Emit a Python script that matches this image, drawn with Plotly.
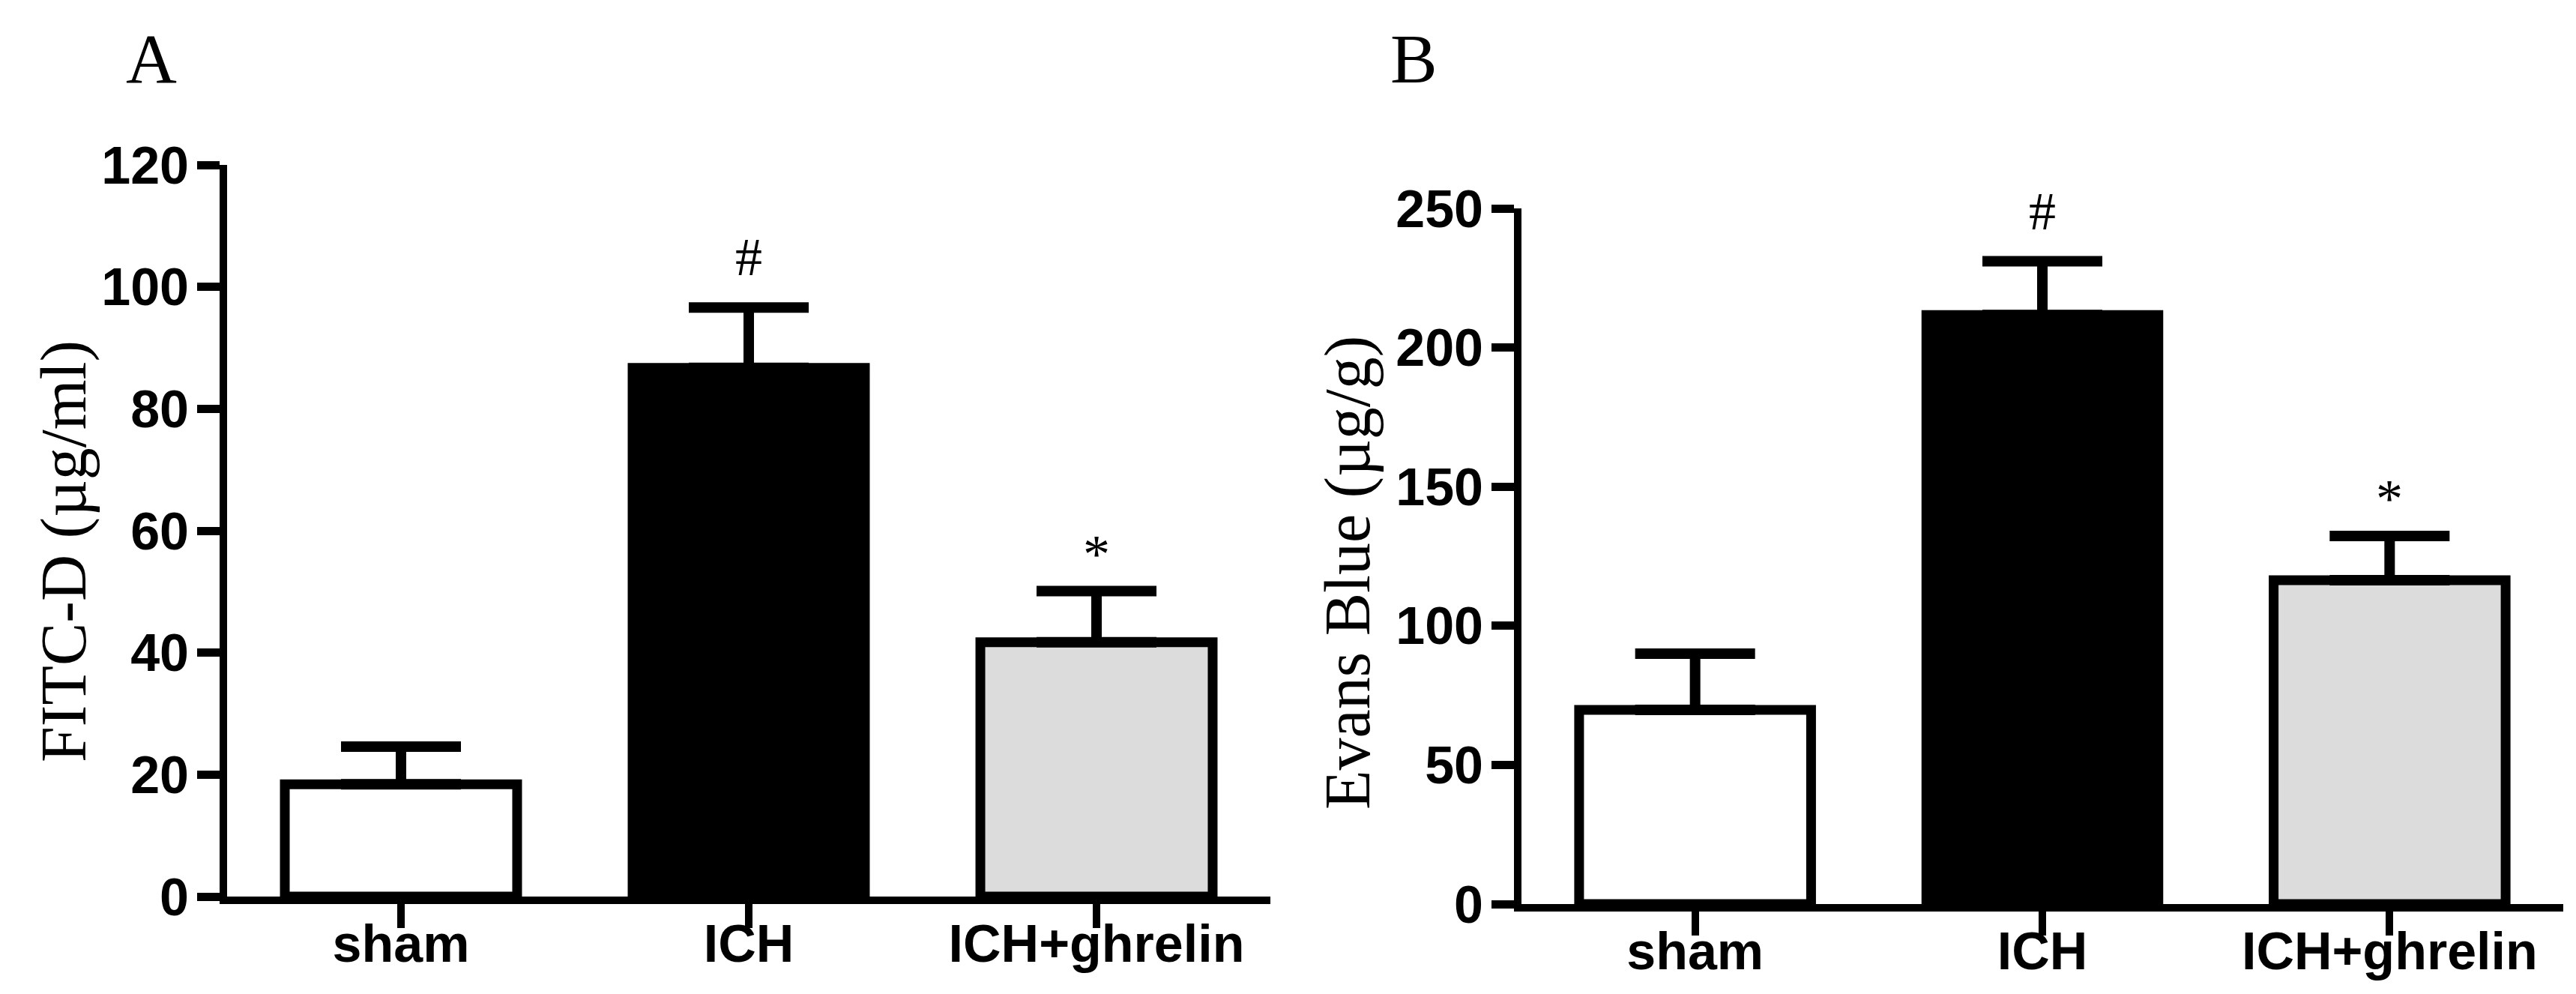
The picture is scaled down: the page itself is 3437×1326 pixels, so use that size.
import plotly.graph_objects as go

W, H = 3437, 1326

categories = ["sham", "ICH", "ICH+ghrelin"]
fitc_mean = [18.4, 86.7, 41.7]
fitc_err = [6.2, 9.9, 8.4]
evans_mean = [69.8, 211.7, 116.4]
evans_err = [20.2, 19.3, 15.9]
marks = ["", "#", "*"]
fitc_ticks = [0, 20, 40, 60, 80, 100, 120]
evans_ticks = [0, 50, 100, 150, 200, 250]
bar_colors = ["#FFFFFF", "#000000", "#DCDCDC"]
mark_shift = {"#": 67, "*": 50}


def px_x(p):
    return p / W


def px_y(p):
    return 1 - p / H


fig = go.Figure()

for i, (means, errs, xa, ya) in enumerate([
    (fitc_mean, fitc_err, "x", "y"),
    (evans_mean, evans_err, "x2", "y2"),
]):
    fig.add_trace(go.Bar(
        x=categories, y=means, width=0.668,
        marker=dict(color=bar_colors, line=dict(color="black", width=13)),
        error_y=dict(type="data", array=errs, arrayminus=[0] * len(errs),
                     symmetric=False, thickness=14, width=80, color="black"),
        xaxis=xa, yaxis=ya, showlegend=False,
    ))
    for c, m, e, s in zip(categories, means, errs, marks):
        if s:
            fig.add_annotation(
                x=c, y=m + e, xref=xa, yref=ya, text=s, showarrow=False,
                yanchor="middle", yshift=mark_shift[s],
                font=dict(family="Liberation Serif", size=72, color="black"),
            )

tickfont = dict(family="Liberation Sans", size=70, color="black", weight=700)
xtickfont = dict(family="Liberation Sans", size=70, color="black", weight=700)

common_x = dict(type="category", range=[-0.5, 2.5], showline=True, linecolor="black",
                linewidth=10, ticks="outside", ticklen=32, tickwidth=10,
                tickcolor="black", tickfont=xtickfont, showgrid=False,
                zeroline=False, fixedrange=True, ticklabelstandoff=-39)
common_y = dict(showline=True, linecolor="black", linewidth=10, ticks="outside",
                ticklen=30, tickwidth=11, tickcolor="black", tickfont=tickfont,
                showgrid=False, zeroline=False, ticklabelstandoff=-3)

fig.update_layout(
    width=W, height=H,
    margin=dict(l=0, r=0, t=0, b=0, autoexpand=False),
    paper_bgcolor="white", plot_bgcolor="white",
    xaxis=dict(domain=[px_x(295), px_x(1687)], anchor="y", **common_x),
    yaxis=dict(domain=[px_y(1188), px_y(212)], anchor="x", range=[0, 120],
               tickvals=fitc_ticks, **common_y),
    xaxis2=dict(domain=[px_x(2022), px_x(3412)], anchor="y2", **common_x),
    yaxis2=dict(domain=[px_y(1198), px_y(270)], anchor="x2", range=[0, 250],
                tickvals=evans_ticks, **common_y),
)

serif_title = dict(family="Liberation Serif", size=86, color="black")
fig.add_annotation(x=px_x(77), y=px_y(728), xref="paper", yref="paper",
                   text="FITC-D (µg/ml)", textangle=-90, showarrow=False,
                   xanchor="center", yanchor="middle", font=serif_title)
fig.add_annotation(x=px_x(1790), y=px_y(756), xref="paper", yref="paper",
                   text="Evans Blue (µg/g)", textangle=-90, showarrow=False,
                   xanchor="center", yanchor="middle", font=serif_title)

letter_font = dict(family="Liberation Serif", size=94, color="black")
fig.add_annotation(x=px_x(158), y=px_y(70), xref="paper", yref="paper", text="A",
                   showarrow=False, xanchor="left", yanchor="middle", font=letter_font)
fig.add_annotation(x=px_x(1845), y=px_y(70), xref="paper", yref="paper", text="B",
                   showarrow=False, xanchor="left", yanchor="middle", font=letter_font)

fig.write_html("out.html")
